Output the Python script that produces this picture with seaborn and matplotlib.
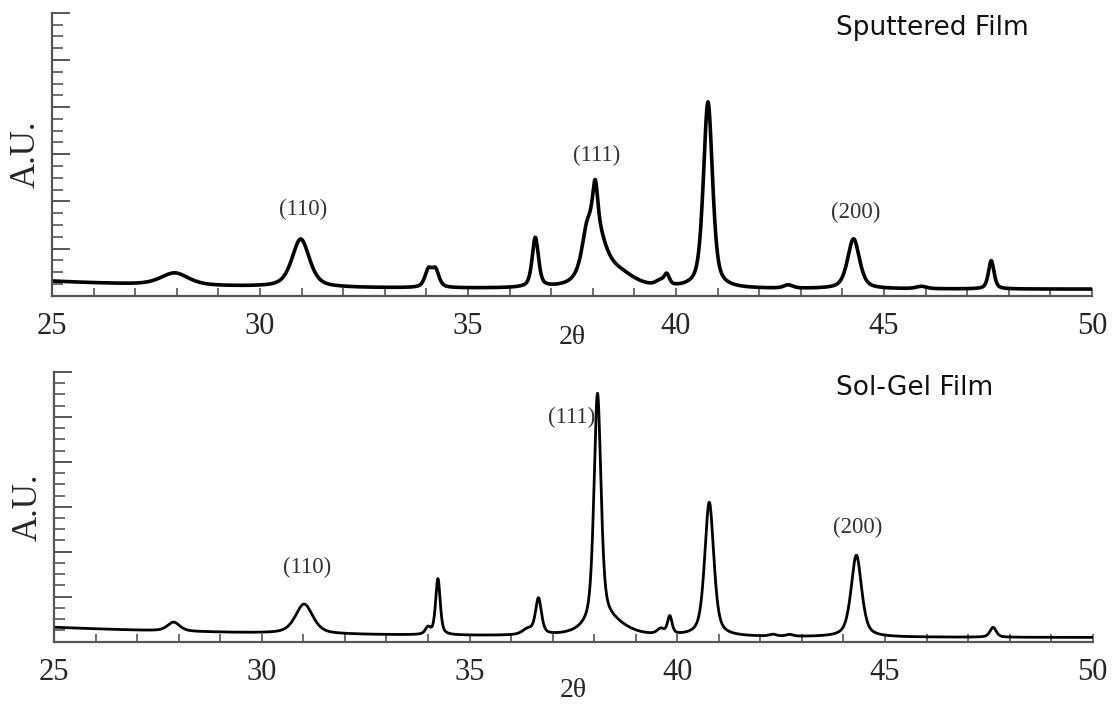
import numpy as np
import pandas as pd
import matplotlib
matplotlib.use("Agg")
import matplotlib.pyplot as plt
import seaborn as sns
from matplotlib.ticker import MultipleLocator

# ---- data: peak centre (2theta), height (A.U.), FWHM ----
sput_pos = [27.95, 30.98, 34.05, 34.22, 36.62, 37.85, 38.05, 38.06, 38.6, 39.62, 39.78, 40.77, 42.7, 44.27, 45.9, 47.58]
sput_amp = [0.26, 1.02, 0.36, 0.36, 1.05, 0.45, 1.25, 0.85, 0.30, 0.10, 0.22, 3.95, 0.07, 1.06, 0.05, 0.60]
sput_fwhm = [0.80, 0.50, 0.20, 0.20, 0.18, 0.25, 0.55, 0.14, 0.90, 0.25, 0.15, 0.26, 0.25, 0.34, 0.30, 0.16]
sput_bg = [0.14, 0.17, 4.0]          # offset, extra at 25 deg, decay length

sol_pos = [27.88, 31.02, 34.0, 34.24, 36.40, 36.66, 38.08, 38.3, 39.60, 39.82, 40.77, 42.3, 42.7, 44.31, 47.6]
sol_amp = [0.20, 0.66, 0.15, 1.25, 0.12, 0.80, 5.10, 0.35, 0.12, 0.40, 2.98, 0.04, 0.04, 1.82, 0.22]
sol_fwhm = [0.35, 0.50, 0.15, 0.13, 0.30, 0.17, 0.20, 1.00, 0.20, 0.13, 0.26, 0.20, 0.20, 0.30, 0.18]
sol_bg = [0.09, 0.23, 6.0]

peak_labels = ["(110)", "(111)", "(200)"]
sput_label_x = [31.03, 38.09, 44.33]
sput_label_y = [1.82, 2.98, 1.77]
sol_label_x = [31.1, 37.45, 44.33]
sol_label_y = [1.64, 4.99, 2.55]

panel_titles = ["Sputtered Film", "Sol-Gel Film"]
x_ticks = [25, 30, 35, 40, 45, 50]


def profile(x, pos, amp, fwhm, bg, eta=0.55):
    y = bg[0] + bg[1] * np.exp(-(x - 25.0) / bg[2])
    for c, a, w in zip(pos, amp, fwhm):
        u = (x - c) / w
        y = y + a * (eta / (1 + 4 * u ** 2) + (1 - eta) * np.exp(-4 * np.log(2) * u ** 2))
    return y


two_theta = np.linspace(25, 50, 2501)
df_sput = pd.DataFrame({"2θ": two_theta, "A.U.": profile(two_theta, sput_pos, sput_amp, sput_fwhm, sput_bg)})
df_sol = pd.DataFrame({"2θ": two_theta, "A.U.": profile(two_theta, sol_pos, sol_amp, sol_fwhm, sol_bg)})

sns.set_style("white")
plt.rcParams["font.family"] = ["DejaVu Sans"]

fig = plt.figure(figsize=(11.15, 7.11), dpi=100)
ax1 = fig.add_axes([0.0466, 0.584, 0.9327, 0.398])
ax2 = fig.add_axes([0.0484, 0.0975, 0.9317, 0.3795])

serif = "Liberation Serif"
panels = [
    (ax1, df_sput, sput_label_x, sput_label_y, 2.6, 932, 28, panel_titles[0], -12),
    (ax2, df_sol, sol_label_x, sol_label_y, 2.0, 915, 388, panel_titles[1], -7),
]
for ax, df, lx, ly, lw, tx, ty, title, xpad in panels:
    sns.lineplot(data=df, x="2θ", y="A.U.", ax=ax, color="black", linewidth=lw)
    ax.set_xlim(25, 50)
    ax.set_ylim(0, 6)
    for s in ["top", "right"]:
        ax.spines[s].set_visible(False)
    for s in ["left", "bottom"]:
        ax.spines[s].set_color("#555555")
        ax.spines[s].set_linewidth(1.6)
    ax.set_xticks(x_ticks)
    ax.set_xticklabels([str(t) for t in x_ticks], fontfamily=serif, fontsize=22)
    ax.xaxis.set_minor_locator(MultipleLocator(1))
    ax.yaxis.set_major_locator(MultipleLocator(1))
    ax.yaxis.set_minor_locator(MultipleLocator(0.25))
    ax.tick_params(axis="x", which="both", direction="in", length=6, width=1.2,
                   color="#555555", pad=12, bottom=True)
    ax.tick_params(axis="y", which="major", direction="in", length=13, width=1.4,
                   color="#555555", left=True, labelleft=False)
    ax.tick_params(axis="y", which="minor", direction="in", length=8, width=1.2,
                   color="#555555", left=True)
    ax.set_xlabel("2θ", fontfamily=serif, fontsize=20, labelpad=xpad)
    ax.set_ylabel("A.U.", fontfamily=serif, fontsize=25, labelpad=3)
    for text, x, y in zip(peak_labels, lx, ly):
        ax.text(x, y, text, ha="center", va="center", fontfamily=serif,
                fontsize=16.5, color="#333333")
    fig.text(tx / 1115, 1 - ty / 711, title,
             ha="center", va="center", fontsize=19, color="#111111")

fig.savefig("out.png", dpi=100)
